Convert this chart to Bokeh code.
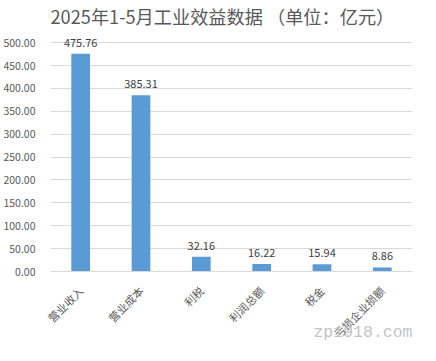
import math
from bokeh.plotting import figure
from bokeh.models import ColumnDataSource, NumeralTickFormatter, FixedTicker, Title
from bokeh.embed import file_html
from bokeh.resources import INLINE
from bokeh.core.properties import value

categories = ["营业收入", "营业成本", "利税", "利润总额", "税金", "亏损企业损额"]
values = [475.76, 385.31, 32.16, 16.22, 15.94, 8.86]
y_ticks = [0, 50, 100, 150, 200, 250, 300, 350, 400, 450, 500]
title_text = "2025年1-5月工业效益数据 （单位：亿元）"
watermark = "zp1918.com"

labels = ["%.2f" % v for v in values]
src = ColumnDataSource(dict(cat=categories, val=values, lab=labels))

FONT = "Noto Sans CJK SC"

p = figure(x_range=categories, y_range=(0, 520), width=420, height=345,
           output_backend="svg", toolbar_location=None,
           min_border_left=45, min_border_right=8, min_border_top=0, min_border_bottom=74)

p.vbar(x="cat", top="val", width=0.31, source=src, color="#5B9BD5", line_color=None)
p.text(x="cat", y="val", text="lab", source=src, text_align="center",
       text_baseline="alphabetic", y_offset=-11, text_font=value(FONT),
       text_font_size="11px", text_color="#404040")

p.title = Title(text=title_text, align="left", vertical_align="top", text_font=FONT,
                text_font_size="18.2px", text_font_style="normal", text_color="#595959",
                offset=0, standoff=5)

p.yaxis.ticker = FixedTicker(ticks=y_ticks)
p.yaxis.formatter = NumeralTickFormatter(format="0.00")
for ax in (p.xaxis[0], p.yaxis[0]):
    ax.major_tick_line_color = None
    ax.minor_tick_line_color = None
    ax.major_label_text_font = FONT
    ax.major_label_text_color = "#595959"
p.yaxis.axis_line_color = None
p.yaxis.major_label_text_font_size = "10.5px"
p.yaxis.major_label_standoff = 9
xa = p.xaxis[0]
xa.axis_line_color = "#d9d9d9"
xa.major_label_text_font_size = "11px"
xa.major_label_orientation = math.pi / 4
xa.major_label_standoff = 11

# watermark drawn as the x axis label (centred on the axis end, so padded on the right)
xa.axis_label = watermark + "\u00a0" * 10
xa.axis_label_text_font = "Liberation Mono"
xa.axis_label_text_font_size = "16.5px"
xa.axis_label_text_font_style = "normal"
xa.axis_label_text_color = "#c4c4c4"
xa.axis_label_standoff = -26
xa.axis_label_align = "end"

p.xgrid.grid_line_color = None
p.ygrid.grid_line_color = "#d9d9d9"
p.outline_line_color = None

open("out.html", "w").write(file_html(p, INLINE))
